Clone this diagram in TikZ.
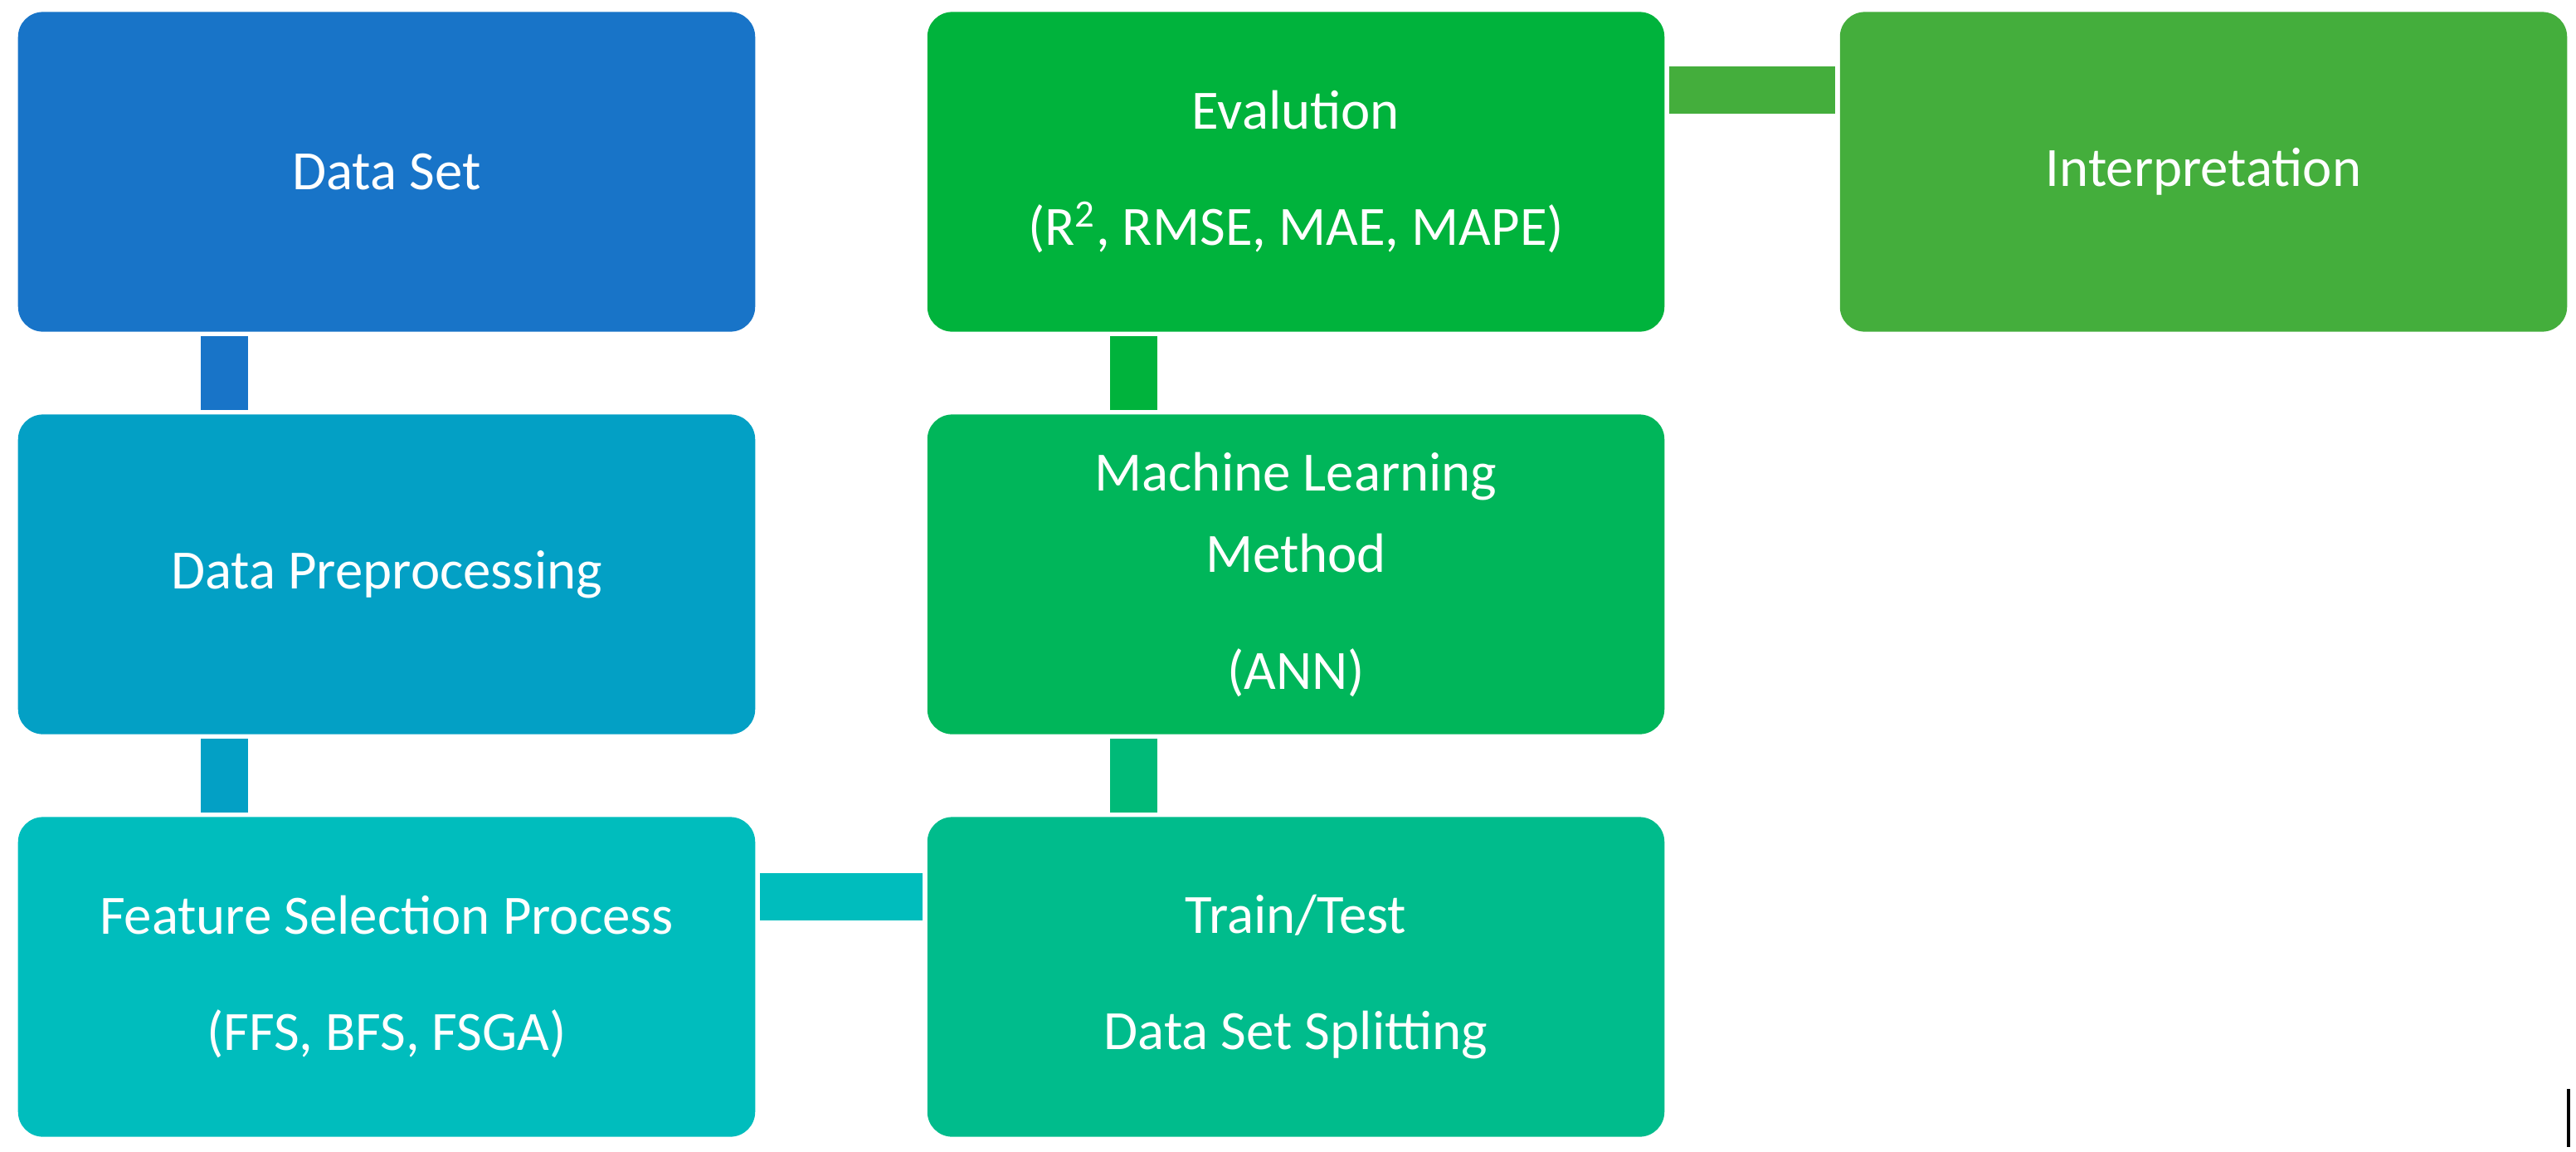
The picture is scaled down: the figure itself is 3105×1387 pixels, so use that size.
\documentclass[tikz,border=0pt]{standalone}
\usepackage{fontspec}
\setmainfont{Carlito}
\usetikzlibrary{calc}
\definecolor{cA}{HTML}{1874C8}
\definecolor{cB}{HTML}{03A0C5}
\definecolor{cC}{HTML}{00BDBD}
\definecolor{cD}{HTML}{00B33C}
\definecolor{cE}{HTML}{00B65A}
\definecolor{cF}{HTML}{00BC8C}
\definecolor{cG}{HTML}{44AE3C}
\begin{document}
\begin{tikzpicture}[x=0.01cm,y=-0.01cm,
 box/.style={rounded corners=0.3cm,minimum width=8.88cm,minimum height=3.85cm,inner sep=0pt,text=white,align=center,font=\fontsize{19}{28}\selectfont},
 bar/.style={line width=0.57cm}]
\useasboundingbox (0,0) rectangle (3105,1387);
\node[box,fill=cA] (ds) at (466,207) {Data Set};
\node[box,fill=cB] (dp) at (466,692) {Data Preprocessing};
\node[box,fill=cC] (fs) at (466,1177) {Feature Selection Process\\[12pt](FFS, BFS, FSGA)};
\node[box,fill=cD] (ev) at (1562,207) {Evalution\\[12pt](R\textsuperscript{2}, RMSE, MAE, MAPE)};
\node[box,fill=cE] (ml) at (1562,692) {Machine Learning\\Method\\[12pt](ANN)};
\node[box,fill=cF] (tt) at (1562,1177) {Train/Test\\[12pt]Data Set Splitting};
\node[box,fill=cG,minimum width=8.76cm] (in) at (2656,207) {Interpretation};
\draw[bar,cA] ($(ds.south west)!0.28!(ds.south east)+(0,5)$) -- ($(dp.north west)!0.28!(dp.north east)+(0,-5)$);
\draw[bar,cB] ($(dp.south west)!0.28!(dp.south east)+(0,5)$) -- ($(fs.north west)!0.28!(fs.north east)+(0,-5)$);
\draw[bar,cC] ($(fs.north east)!0.25!(fs.south east)+(5,0)$) -- ($(tt.north west)!0.25!(tt.south west)+(-5,0)$);
\draw[bar,cF!60!cE] ($(tt.north west)!0.28!(tt.north east)+(0,-5)$) -- ($(ml.south west)!0.28!(ml.south east)+(0,5)$);
\draw[bar,cD] ($(ml.north west)!0.28!(ml.north east)+(0,-5)$) -- ($(ev.south west)!0.28!(ev.south east)+(0,5)$);
\draw[bar,cG] ($(ev.north east)!0.245!(ev.south east)+(5,0)$) -- ($(in.north west)!0.245!(in.south west)+(-5,0)$);
\coordinate (m1) at (3096,1312);
\coordinate (m2) at (3096,1382);
\draw[line width=0.04cm] (m1) -- (m2);
\end{tikzpicture}
\end{document}
